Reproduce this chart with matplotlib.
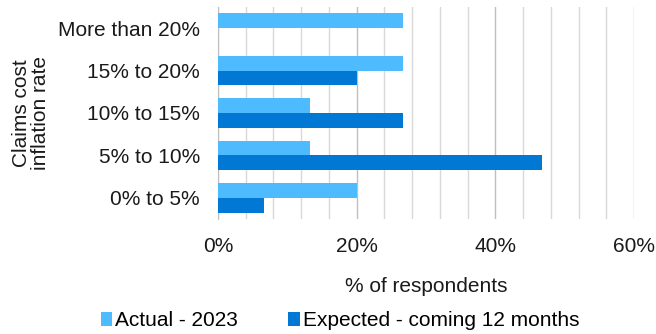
import numpy as np
import matplotlib.pyplot as plt
from matplotlib.ticker import MultipleLocator, PercentFormatter

plt.rcParams['font.family'] = ['Liberation Sans', 'DejaVu Sans']

categories = ['0% to 5%', '5% to 10%', '10% to 15%', '15% to 20%', 'More than 20%']
actual_2023 = [20.0, 13.3, 13.3, 26.7, 26.7]
expected_12m = [6.7, 46.7, 26.7, 20.0, 0.0]

fs = 15
fig = plt.figure(figsize=(6.56, 3.34), dpi=100)
ax = fig.add_axes([218 / 656, 1 - 219 / 334, (634 - 218) / 656, (219 - 7) / 334])

y = np.arange(len(categories))
h = 0.35
ax.barh(y + h / 2, actual_2023, height=h, color='#4FBBFF', linewidth=0,
        label='Actual - 2023', zorder=3)
ax.barh(y - h / 2, expected_12m, height=h, color='#0078D4', linewidth=0,
        label='Expected - coming 12 months', zorder=3)

ax.set_xlim(0, 60)
ax.set_ylim(-0.5, len(categories) - 0.5)
ax.xaxis.set_major_locator(MultipleLocator(20))
ax.xaxis.set_minor_locator(MultipleLocator(4))
ax.xaxis.set_major_formatter(PercentFormatter(decimals=0))
ax.grid(axis='x', which='minor', color='#D9D9D9', linewidth=1, zorder=0)
ax.grid(axis='x', which='major', color='#BFBFBF', linewidth=1, zorder=0)
ax.tick_params(axis='both', which='both', length=0, labelsize=fs, colors='#1a1a1a')
ax.tick_params(axis='x', pad=13)
ax.tick_params(axis='y', pad=13)
ax.set_yticks(y)
ax.set_yticklabels(categories)

for s in ['top', 'right', 'bottom']:
    ax.spines[s].set_visible(False)
ax.spines['left'].set_color('#BFBFBF')

ax.set_xlabel('% of respondents', fontsize=fs, labelpad=15, color='#1a1a1a')
ax.set_ylabel('Claims cost\ninflation rate', fontsize=fs, color='#1a1a1a',
              linespacing=1.0)
ax.yaxis.set_label_coords(-0.405, 0.5)

fig.legend(*ax.get_legend_handles_labels(), loc='center',
           bbox_to_anchor=(340 / 656, 1 - 321 / 334), ncol=2, frameon=False,
           fontsize=fs, handlelength=0.55, handleheight=0.65, handletextpad=0.15,
           columnspacing=2.4, borderpad=0)

fig.savefig('out.png', dpi=100)
